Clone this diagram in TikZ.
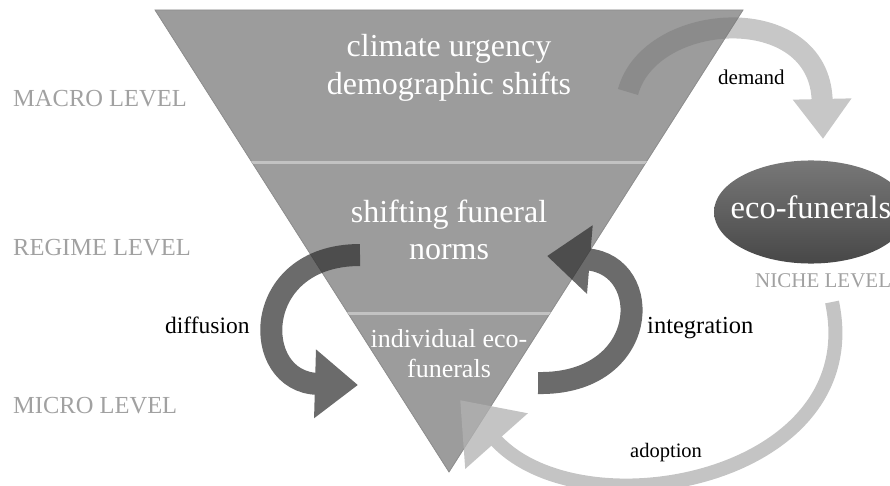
\documentclass[tikz,border=0pt]{standalone}
\usepackage{fontspec}
\setmainfont{Liberation Serif}
\usetikzlibrary{arrows.meta,shapes.geometric}

\definecolor{pyramid}{gray}{0.61}
\definecolor{layergap}{gray}{0.76}
\definecolor{levelgray}{gray}{0.63}
\definecolor{nichetop}{gray}{0.47}
\definecolor{nichebottom}{gray}{0.28}

\begin{document}
\begin{tikzpicture}[x=1pt,y=-1pt,
  level/.style={text=levelgray,inner sep=0pt,anchor=base west,font=\fontsize{24.5}{28}\selectfont},
  flowlabel/.style={inner sep=0pt,anchor=base west},
  layertext/.style={text=white,align=center,inner sep=0pt},
  darkflow/.style={line width=22pt,draw=black!82,-{Triangle[width=66pt,length=43pt]}},
  lightflow/.style={draw=black!30,-{Triangle[width=80pt,length=55pt]}}]
\useasboundingbox (0,0) rectangle (890,486);

% the three layers
\fill[pyramid,draw=black!45,line width=0.8pt] (155,10) -- (743,10) -- (449,472) -- cycle;
\begin{scope}
\clip (155,10) -- (743,10) -- (449,472) -- cycle;
\fill[layergap] (140,161) rectangle (760,164);
\fill[layergap] (140,312) rectangle (760,315);
\end{scope}

% niche
\node[ellipse,inner xsep=-11.7pt,inner ysep=19.9pt,top color=nichetop,bottom color=nichebottom,
  text=white,text depth=10.2pt,font=\fontsize{32.5}{38}\selectfont] (niche) at (811,212) {eco-funerals};

% flows between the levels
\coordinate (demand tail) at (628,92);
\coordinate (demand tip) at (823,139);
\coordinate (adoption tail) at (832,302);
\coordinate (adoption tip) at (460,400);
\coordinate (diffusion tail) at (360,255);
\coordinate (diffusion tip) at (358,385);
\coordinate (integration tail) at (538,383);
\coordinate (integration tip) at (547,256);

\begin{scope}[transparency group,opacity=0.4]
\draw[line width=21pt,draw=black!55,-{Triangle[width=56pt,length=40pt]}]
  (demand tail) .. controls (650,10) and (820,0) .. (demand tip);
\end{scope}
\begin{scope}[transparency group,opacity=0.76]
\draw[lightflow,line width=14pt]
  (adoption tail) .. controls (870,480) and (580,535) .. (adoption tip);
\end{scope}
\begin{scope}[transparency group,opacity=0.71]
\draw[darkflow] (diffusion tail) .. controls (250,255) and (250,382) .. (diffusion tip);
\end{scope}
\begin{scope}[transparency group,opacity=0.71]
\draw[darkflow] (integration tail) .. controls (650,385) and (655,265) .. (integration tip);
\end{scope}

% texts
\node[layertext,font=\fontsize{32}{38}\selectfont] (macro) at (449,67.5) {climate urgency\\demographic shifts};
\node[layertext,font=\fontsize{32}{37.5}\selectfont] (regime) at (449,229.7) {shifting funeral\\norms};
\node[layertext,font=\fontsize{26}{30}\selectfont] (micro) at (449,354) {individual eco-\\funerals};

\node[level] (macro level) at (13,107) {MACRO LEVEL};
\node[level] (regime level) at (13,255) {REGIME LEVEL};
\node[level] (micro level) at (13,413) {MICRO LEVEL};
\node[level,font=\fontsize{21}{24}\selectfont] (niche level) at (755,287) {NICHE LEVEL};

\node[flowlabel,font=\fontsize{21}{24}\selectfont] (demand) at (718,85) {demand};
\node[flowlabel,font=\fontsize{23.5}{27}\selectfont] (diffusion) at (165,333) {diffusion};
\node[flowlabel,font=\fontsize{24.5}{28}\selectfont] (integration) at (647,333) {integration};
\node[flowlabel,font=\fontsize{20.5}{24}\selectfont] (adoption) at (630,457) {adoption};
\end{tikzpicture}
\end{document}
